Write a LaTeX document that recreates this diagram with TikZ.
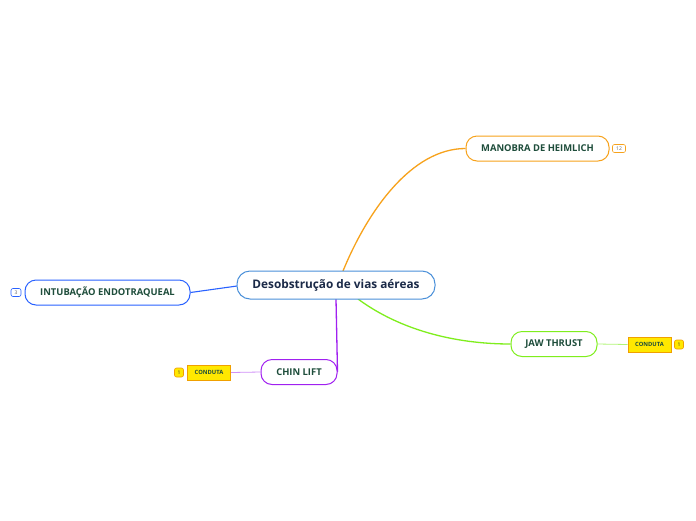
\documentclass[tikz,border=0pt]{standalone}
\usepackage{fontspec}
\setmainfont{Open Sans}
\usetikzlibrary{backgrounds}
\definecolor{centralc}{HTML}{4A90D9}
\definecolor{navy}{HTML}{1B2A48}
\definecolor{dgreen}{HTML}{1E4D3B}
\definecolor{orangec}{HTML}{F7A21B}
\definecolor{bluec}{HTML}{2962FF}
\definecolor{purplec}{HTML}{A020F0}
\definecolor{greenc}{HTML}{7FEE1D}
\definecolor{yellowc}{HTML}{FFE800}
\definecolor{yborder}{HTML}{F0A000}
\tikzset{
  mainbox/.style={draw=centralc, line width=1pt, rounded corners=13pt, fill=white,
    minimum width=198pt, minimum height=28pt, inner sep=0pt,
    font=\fontsize{11.8}{14}\selectfont\bfseries, text=navy},
  childbox/.style={draw=#1, line width=1pt, rounded corners=11pt, fill=white,
    minimum height=25pt, inner sep=0pt,
    font=\fontsize{9.4}{11}\selectfont\bfseries, text=dgreen},
  badge/.style={draw=#1, line width=0.6pt, rounded corners=2pt, fill=white,
    minimum width=10pt, minimum height=8pt, inner sep=0.5pt,
    font=\fontsize{5}{6}\selectfont, text=black!60},
  ybadge/.style={draw=yborder, line width=0.6pt, rounded corners=2pt, fill=yellowc,
    minimum width=9pt, minimum height=9pt, inner sep=0.5pt,
    font=\fontsize{5}{6}\selectfont, text=black!80},
  conduta/.style={draw=yborder, line width=0.8pt, fill=yellowc,
    minimum width=43pt, minimum height=15pt, inner sep=0pt,
    font=\fontsize{5.8}{7}\selectfont\bfseries, text=dgreen},
}
\begin{document}
\begin{tikzpicture}[x=1pt,y=-1pt]
\useasboundingbox (0,0) rectangle (696,520);
\node[mainbox] (main) at (336,285) {Desobstrução de vias aéreas};
\node[childbox=orangec, minimum width=143pt] (heim) at (537.5,148.5) {MANOBRA DE HEIMLICH};
\node[childbox=bluec, minimum width=165pt] (intub) at (107.5,292.5) {INTUBAÇÃO ENDOTRAQUEAL};
\node[childbox=purplec, minimum width=76pt] (chin) at (299,372) {CHIN LIFT};
\node[childbox=greenc, minimum width=86pt] (jaw) at (554,344) {JAW THRUST};
% badges
\node[badge=orangec, minimum width=13pt] (b12) at (619,148.5) {12};
\node[badge=bluec] (b3) at (16,292.5) {3};
% conduta boxes
\node[conduta] (c1) at (209,372.5) {CONDUTA};
\node[ybadge] (y1) at (179,372.5) {1};
\node[conduta] (c2) at (649.5,344.5) {CONDUTA};
\node[ybadge] (y2) at (679,344.5) {1};
% connectors
\coordinate (ct) at (343,271);
\coordinate (cb) at (336,299);
\coordinate (cg) at (358,299);
\coordinate (cl) at (237,286);
\begin{pgfonlayer}{background}
\fill[white] (0,0) rectangle (696,520);
\draw[orangec, line width=1.3pt] (ct) .. controls (368,210) and (412,148.5) .. (heim.west);
\draw[greenc, line width=1.3pt] (cg) .. controls (400,330) and (455,344) .. (jaw.west);
\draw[purplec, line width=1.3pt] (cb) -- (chin.east);
\draw[bluec, line width=1.1pt] (intub.east) -- (cl);
\draw[purplec!50, line width=0.8pt] (c1.east) -- (chin.west);
\draw[greenc!60, line width=0.8pt] (jaw.east) -- (c2.west);
\end{pgfonlayer}
\end{tikzpicture}
\end{document}
